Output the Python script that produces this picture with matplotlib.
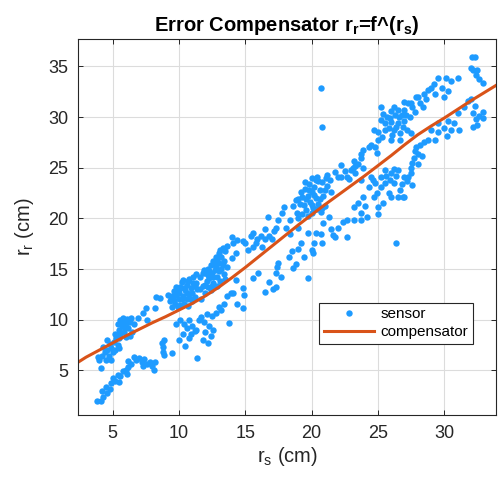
import matplotlib
matplotlib.use("Agg")
import matplotlib.pyplot as plt

plt.rcParams['font.family'] = ['Liberation Sans', 'DejaVu Sans']
plt.rcParams['mathtext.fontset'] = 'custom'
plt.rcParams['mathtext.rm'] = 'Liberation Sans'
plt.rcParams['mathtext.it'] = 'Liberation Sans'
plt.rcParams['mathtext.bf'] = 'Liberation Sans:bold'

# ---- data ----
cluster_a = [(3.8,2.0),(4.1,2.0),(4.3,2.4),(4.2,3.0),(4.6,2.8),(4.5,3.4),(4.8,3.2),(4.9,3.8),(5.0,4.3),
             (4.1,5.2),(4.0,6.0),(4.2,6.4),(4.4,6.8),(4.3,7.3),(4.6,7.0),(4.7,6.4),(4.8,7.6),(4.9,7.2),
             (4.6,8.0),(5.0,6.8),(4.5,6.0),(4.9,6.0),(3.9,6.3)]
cluster_b = [(5.2,4.0),(5.4,4.5),(5.6,4.4),(5.8,4.9),(6.0,5.0),(6.2,5.3),(6.4,5.6),(6.1,4.6),(5.5,3.9),
             (6.6,6.3),(6.8,6.0),(6.2,5.9),(5.1,7.8),(5.3,8.2),(5.4,7.5),(5.2,8.6),(5.5,9.0),(5.6,8.6),
             (5.7,9.4),(5.8,9.8),(5.6,10.0),(6.0,9.6),(6.1,10.1),(6.2,9.2),(6.3,9.8),(6.4,10.2),(5.9,8.8),
             (6.0,8.3),(6.5,8.8),(6.6,9.6),(5.4,9.6),(5.8,10.2),(6.3,8.4),(5.5,7.2),(5.2,7.0),(6.9,10.2),
             (5.9,9.3),(6.2,10.0),(5.5,8.2)]
cluster_c = [(7.0,6.2),(7.2,5.8),(7.4,6.1),(7.6,5.6),(7.8,5.8),(8.0,5.4),(8.2,5.8),(7.3,5.4),(8.1,5.0),
             (7.3,10.7),(7.5,11.2),(7.6,10.0),(8.3,12.2),(8.2,11.2),(8.6,12.1),(8.8,6.8),(8.8,7.3),
             (8.9,8.0),(8.7,7.7),(8.9,6.5)]
cluster_d = [(9.3,11.8),(9.5,12.3),(9.6,12.8),(9.8,13.2),(9.7,11.6),(10.0,12.0),(10.0,12.6),(10.1,13.2),
             (10.2,13.7),(10.3,12.3),(10.4,11.6),(10.5,12.9),(10.6,13.4),(10.6,12.0),(10.8,12.5),(10.9,13.1),
             (11.0,11.8),(11.0,12.6),(11.1,13.6),(11.2,12.2),(9.9,11.3),(10.3,13.9),(9.5,11.3),(10.8,14.0),
             (11.3,14.5),(11.4,13.0),(9.2,12.4),(10.7,11.4),
             (9.4,12.0),(9.6,11.9),(9.8,12.4),(10.0,13.0),(10.2,12.0),(10.4,13.1),(10.6,12.6),(10.9,12.0),
             (11.2,13.3),(9.9,12.8),(10.1,11.5),(10.7,13.8),(11.1,14.2),(11.3,13.6),
             (10.1,10.0),(10.4,9.6),(10.6,9.2),(10.8,10.0),(11.0,9.4),(11.2,8.9),(10.3,8.6),(10.0,8.0),
             (10.5,7.4),(10.8,8.2),(11.4,6.2),(9.5,6.7),(9.8,9.6),(11.5,10.0),(11.3,9.0),(10.9,8.6)]
cluster_e = [(11.6,14.2),(11.8,13.3),(12.0,14.6),(12.1,13.8),(12.2,15.0),(12.3,14.1),(12.4,15.4),(12.4,12.9),
             (12.5,14.6),(12.6,15.8),(12.6,13.6),(12.7,14.9),(12.8,15.2),(12.8,16.2),(12.9,14.2),(13.0,15.6),
             (13.0,16.6),(13.1,13.8),(13.2,15.0),(13.2,16.2),(13.3,17.1),(13.4,14.5),(13.4,15.8),(13.5,16.8),
             (13.6,17.3),(13.6,15.2),(12.0,12.6),(11.7,12.0),(12.2,13.2),(11.9,14.9),(12.9,13.3),(11.6,13.0),
             (12.0,13.4),(12.3,14.8),(12.5,13.3),(12.7,15.5),(12.9,16.0),(13.1,16.9),(13.3,15.4),(13.5,14.0),
             (12.2,14.4),(12.6,14.2),(11.8,14.6),(13.0,14.8),
             (11.7,10.3),(11.9,9.8),(12.0,8.8),(12.2,7.7),(12.3,9.4),(12.5,10.4),(12.6,9.0),(12.8,10.7),
             (13.0,11.3),(13.2,11.0),(13.4,11.6),(13.6,12.3),(13.8,9.7),(13.9,12.6),(12.1,10.6),(12.4,8.4),
             (11.8,8.0)]
cluster_f = [(14.0,16.1),(14.1,17.6),(14.0,18.2),(14.4,17.9),(14.8,17.8),(15.0,17.6),(15.4,18.3),(15.6,18.6),
             (15.6,17.2),(15.9,18.0),(16.2,18.3),(16.5,19.0),(16.7,20.1),(16.5,18.0),(16.8,18.3),(16.3,17.2),
             (17.0,18.0),(17.2,18.8),(14.3,16.6),(15.2,16.9),(15.8,17.6),
             (14.1,12.6),(14.3,13.9),(14.4,11.6),(14.8,11.2),(14.8,13.1),(14.9,12.4),(15.6,14.1),(16.0,14.6),
             (16.5,12.7),(16.8,13.7),(17.1,13.0),(17.3,13.2)]
cluster_g = [(17.9,21.1),(17.8,20.5),(17.5,19.8),(18.8,21.8),(18.4,19.8),(19.0,19.1),(17.3,19.1),(18.1,19.1),
             (19.0,21.9),(19.2,22.6),(19.4,21.3),(19.5,22.9),(19.6,20.8),(19.7,22.2),(19.8,23.4),(19.9,21.6),
             (20.0,22.6),(20.1,21.0),(20.2,23.1),(20.3,22.0),(20.4,24.1),(20.5,21.4),(20.6,22.8),(20.7,20.6),
             (20.8,23.6),(20.9,22.2),(21.0,21.2),(19.3,20.4),(20.0,24.0),(21.2,24.3),(21.4,23.8),(21.5,22.6),
             (21.8,24.6),(22.0,24.1),(20.5,23.7),(19.7,20.2),(18.6,21.2),(18.9,20.5),
             (19.1,21.4),(19.3,22.1),(19.6,21.9),(19.8,22.8),(20.0,21.3),(20.2,22.3),(20.4,20.9),(20.6,21.9),
             (20.8,21.0),(21.0,22.8),(21.2,23.2),(19.5,23.6),(20.3,23.8),(21.1,24.0),(20.0,20.5),
             (17.3,14.6),(17.4,15.2),(17.5,15.6),(17.7,14.2),(18.3,16.2),(18.5,16.8),(18.6,15.1),(18.8,15.5),
             (19.4,16.2),(19.2,17.6),(19.0,17.0),(19.7,14.1),(18.4,18.5),(19.7,18.6),(19.0,20.0)]
cluster_h = [(20.1,16.6),(20.2,17.6),(20.0,16.9),(20.3,18.6),(20.7,18.5),(20.9,19.5),(20.8,17.6),(21.3,20.1),
             (21.6,18.4),(21.8,18.2),(22.0,19.1),(22.4,19.6),(22.7,18.2),(22.7,19.8),(21.5,19.0),
             (22.2,24.1),(22.7,24.1),(22.5,24.7),(23.0,24.8),(23.1,25.0),(23.2,25.7),(23.3,25.2),(23.5,25.4),
             (23.7,26.0),(23.9,26.7),(23.7,26.4),(23.9,25.0),(22.8,23.9),(22.2,25.3),(23.3,24.5)]
cluster_i = [(23.2,19.8),(23.2,21.1),(23.5,21.5),(23.7,19.8),(23.7,20.5),(23.9,22.1),(24.2,20.1),(24.3,23.1),
             (23.7,23.8),(24.6,23.8),(24.5,24.1),(24.7,22.1),(25.0,21.1),(25.2,23.1),(25.2,24.1),(25.4,21.5),
             (25.5,23.5),(25.5,24.8),(25.8,22.5),(26.0,24.5),(26.0,22.1),(26.2,23.5),(26.5,22.1),(26.5,24.8),
             (26.4,24.2),(26.9,22.1),(26.7,22.8),(27.0,24.1),(27.0,22.1),(27.3,24.1),(27.5,24.5),
             (27.5,25.0),(27.6,25.5),(27.7,26.0),(27.6,23.3),(24.9,22.5),(24.0,21.2),(25.0,20.4),
             (25.6,24.2),(26.2,24.9),(26.8,23.4),(27.2,23.7),(25.9,23.8),(24.8,23.5)]
cluster_j = [(24.5,27.2),(24.7,28.7),(25.0,27.7),(25.0,28.5),(25.2,29.7),(25.2,31.0),(25.5,29.4),(25.7,30.0),
             (25.8,28.9),(26.0,29.5),(26.0,27.7),(26.2,28.7),(26.3,30.2),(26.5,30.7),(26.5,29.4),(26.7,28.4),
             (26.7,27.7),(26.8,30.2),(27.0,30.7),(27.0,29.6),(27.3,31.4),(27.2,28.7),(27.5,28.4),(27.5,31.4),
             (27.9,32.0),(27.8,30.5),(24.3,27.0),(24.9,26.5),(26.2,31.0),
             (24.8,27.0),(25.3,28.0),(25.5,28.7),(25.9,29.9),(26.1,28.2),(26.4,29.0),(26.6,30.0),(26.9,29.0),
             (27.1,30.2),(27.4,30.0),(27.6,31.0),(27.0,31.5),(26.0,30.6),(25.4,30.3)]
cluster_k = [(28.0,32.0),(28.2,31.4),(28.5,32.3),(28.8,32.7),(29.0,32.9),(29.5,33.9),(29.8,32.9),(30.0,32.0),
             (30.1,33.9),(30.5,33.6),(31.0,33.9),(28.4,31.0),(29.3,32.3),(28.6,31.8),(29.2,33.3),(30.3,32.6),
             (28.0,26.4),(28.0,25.4),(27.9,27.0),(28.2,27.2),(28.5,27.5),(28.8,27.7),(29.0,28.7),(29.3,27.7),
             (29.5,28.5),(29.5,29.4),(30.0,28.9),(30.3,29.6),(30.5,28.7),(30.7,29.4),(31.0,30.4),(31.1,28.7),
             (30.2,28.1),(28.3,26.2),(27.8,26.6)]
cluster_l = [(31.8,31.6),(32.1,35.9),(32.3,35.9),(32.2,34.6),(32.5,34.6),(32.4,34.1),(32.9,33.4),(32.6,33.8),
             (32.0,34.8),(32.2,30.4),(32.4,29.8),(32.2,29.0),(32.5,29.2),(32.9,30.5),(32.9,29.9),(32.3,31.1),
             (32.6,30.1),(31.5,31.0),(32.0,31.8)]
outliers = [(20.7,32.9),(20.8,29.0),(26.4,17.6)]

compensator_rs = [2.4, 3, 4, 5, 6, 7, 8, 9, 10, 11, 12, 13, 14, 15, 16, 17, 18,
                  19, 20, 21, 22, 23, 24, 25, 26, 27, 28, 29, 30, 31, 32, 33, 34]
compensator_rr = [5.8, 6.3, 7.0, 7.7, 8.4, 9.05, 9.7, 10.3, 10.95, 11.6, 12.35, 13.2, 14.15, 15.15, 16.2, 17.25, 18.3,
                  19.35, 20.35, 21.35, 22.3, 23.25, 24.2, 25.2, 26.2, 27.25, 28.25, 29.1, 29.9, 30.75, 31.6, 32.4, 33.2]

x_ticks = [5, 10, 15, 20, 25, 30]
y_ticks = [5, 10, 15, 20, 25, 30, 35]

clusters = [cluster_a, cluster_b, cluster_c, cluster_d, cluster_e, cluster_f, cluster_g,
            cluster_h, cluster_i, cluster_j, cluster_k, cluster_l, outliers]
sensor_rs = [p[0] for c in clusters for p in c]
sensor_rr = [p[1] for c in clusters for p in c]

fig = plt.figure(figsize=(4.98, 4.78), dpi=100)
ax = fig.add_axes([78/498, 1-415/478, 418/498, 376/478])

ax.plot(sensor_rs, sensor_rr, 'o', color='#1E9BFF', markersize=4.6, markeredgewidth=0, label='sensor')
ax.plot(compensator_rs, compensator_rr, '-', color='#D95319', linewidth=2.2, label='compensator')

ax.set_xlim(2.4, 33.9)
ax.set_ylim(0.6, 37.7)
ax.set_xticks(x_ticks)
ax.set_yticks(y_ticks)
ax.grid(True, color='#dcdcdc', linewidth=0.8)
ax.set_axisbelow(True)
ax.tick_params(direction='in', length=3.5, width=0.7, labelsize=13, colors='#262626',
               top=True, right=True, pad=7)
for s in ax.spines.values():
    s.set_color('#262626')
    s.set_linewidth(0.8)

ax.set_xlabel(r'r$_\mathregular{s}$ (cm)', fontsize=14.5, color='#262626', labelpad=2)
ax.set_ylabel(r'r$_\mathregular{r}$ (cm)', fontsize=14.5, color='#262626', labelpad=9)
ax.set_title(r'Error Compensator r$_\mathbf{r}$=f^(r$_\mathbf{s}$)', fontsize=14.5, fontweight='bold',
             color='black', pad=6)

leg = ax.legend(loc='lower left', bbox_to_anchor=(0.577, 0.19), fontsize=11, frameon=True,
                fancybox=False, edgecolor='#262626', framealpha=1, borderpad=0.3,
                handlelength=3.3, handletextpad=0.4, labelspacing=0.25, borderaxespad=0)
leg.get_frame().set_linewidth(0.8)

fig.savefig('out.png', dpi=100)
